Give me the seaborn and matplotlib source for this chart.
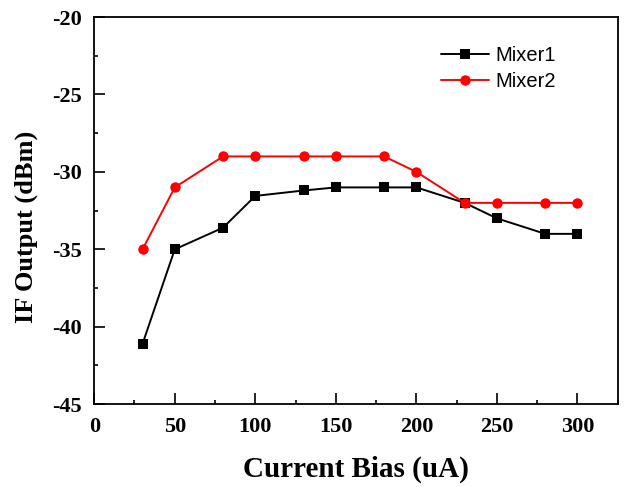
import matplotlib
matplotlib.use("Agg")
import matplotlib.pyplot as plt
import seaborn as sns
import pandas as pd
from matplotlib.ticker import MultipleLocator

bias = [30, 50, 80, 100, 130, 150, 180, 200, 230, 250, 280, 300]
mixer1 = [-41.1, -35, -33.6, -31.55, -31.2, -31, -31, -31, -32, -33, -34, -34]
mixer2 = [-35, -31, -29, -29, -29, -29, -29, -30, -32, -32, -32, -32]

df = pd.DataFrame({
    "bias": bias * 2,
    "value": mixer1 + mixer2,
    "series": ["Mixer1"] * len(bias) + ["Mixer2"] * len(bias),
})

sns.set_style("ticks", {"axes.edgecolor": "black", "text.color": "black",
                        "axes.labelcolor": "black", "xtick.color": "black",
                        "ytick.color": "black"})
plt.rcParams["font.family"] = ["Liberation Serif", "DejaVu Serif"]
plt.rcParams["axes.unicode_minus"] = False

fig = plt.figure(figsize=(6.24, 4.87), dpi=100)
ax = fig.add_axes([0.151, 0.170, 0.839, 0.795])

sns.lineplot(data=df, x="bias", y="value", hue="series", style="series",
             palette={"Mixer1": "black", "Mixer2": "red"},
             markers={"Mixer1": "s", "Mixer2": "o"}, dashes=False,
             markersize=7.5, markeredgewidth=0, linewidth=1.4, ax=ax)

ax.set_xlim(0, 325)
ax.set_ylim(-45, -20)
ax.xaxis.set_major_locator(MultipleLocator(50))
ax.xaxis.set_minor_locator(MultipleLocator(25))
ax.yaxis.set_major_locator(MultipleLocator(5))
ax.yaxis.set_minor_locator(MultipleLocator(2.5))
ax.tick_params(which="major", direction="in", length=8, width=1.2,
               labelsize=16, pad=9)
ax.tick_params(which="minor", direction="in", length=3, width=1.2)
for lab in ax.get_xticklabels() + ax.get_yticklabels():
    lab.set_fontweight("bold")
for sp in ax.spines.values():
    sp.set_linewidth(1.3)

ax.set_xlabel("Current Bias (uA)", fontsize=21, fontweight="bold", labelpad=14)
ax.set_ylabel("IF Output (dBm)", fontsize=19, fontweight="bold")
ax.yaxis.set_label_coords(-0.108, 0.457)

leg = ax.legend(loc="upper left", bbox_to_anchor=(0.627, 0.972), frameon=False,
                prop={"family": "Liberation Sans", "size": 14.5},
                handlelength=2.4, labelspacing=0.35, handletextpad=0.3)

fig.savefig("out.png", dpi=100)
